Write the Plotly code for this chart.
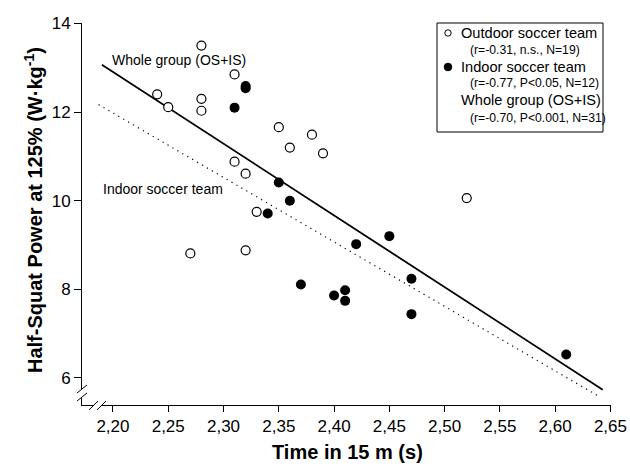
import plotly.graph_objects as go

# ---- data ----
outdoor_x = [2.24, 2.25, 2.27, 2.28, 2.28, 2.28, 2.31, 2.31, 2.32, 2.32, 2.33, 2.35, 2.36, 2.38, 2.39, 2.52]
outdoor_y = [12.40, 12.11, 8.81, 13.50, 12.30, 12.03, 12.85, 10.88, 10.61, 8.88, 9.75, 11.66, 11.20, 11.49, 11.07, 10.06]

indoor_x = [2.31, 2.32, 2.32, 2.34, 2.35, 2.36, 2.37, 2.40, 2.41, 2.41, 2.42, 2.45, 2.47, 2.47, 2.61]
indoor_y = [12.10, 12.59, 12.54, 9.71, 10.41, 10.00, 8.11, 7.86, 7.98, 7.74, 9.02, 9.20, 8.24, 7.44, 6.53]

# regression lines (slope, intercept, x extent)
whole_slope, whole_intercept = -16.18, 48.50
whole_xs = [2.19, 2.643]
indoor_slope, indoor_intercept = -14.55, 43.99
indoor_xs = [2.187, 2.640]

x_ticks = [2.20, 2.25, 2.30, 2.35, 2.40, 2.45, 2.50, 2.55, 2.60, 2.65]
y_ticks = [6, 8, 10, 12, 14]

legend_lines = [
    ("Outdoor soccer team", 14.6, "main"),
    ("(r=-0.31, n.s., N=19)", 12.2, "sub"),
    ("Indoor soccer team", 14.6, "main"),
    ("(r=-0.77, P<0.05, N=12)", 12.2, "sub"),
    ("Whole group (OS+IS)", 14.6, "main"),
    ("(r=-0.70, P<0.001, N=31)", 12.2, "sub"),
]

FONT = "Arial, Liberation Sans, sans-serif"
W, H = 630, 467
L, R, T, B = 82, 19, 23, 62
PW, PH = W - L - R, H - T - B


def px(xp):
    return (xp - L) / PW


def py(yp):
    return (H - B - yp) / PH


fig = go.Figure()

fig.add_trace(go.Scatter(
    x=whole_xs, y=[whole_intercept + whole_slope * v for v in whole_xs],
    mode="lines", line=dict(color="black", width=1.8), showlegend=False, hoverinfo="skip"))
fig.add_trace(go.Scatter(
    x=indoor_xs, y=[indoor_intercept + indoor_slope * v for v in indoor_xs],
    mode="lines", line=dict(color="black", width=1.2, dash="1.2px,4.5px"), showlegend=False, hoverinfo="skip"))

fig.add_trace(go.Scatter(
    x=outdoor_x, y=outdoor_y, mode="markers", name="Outdoor soccer team",
    marker=dict(symbol="circle", size=9, color="white", line=dict(color="black", width=1.2)),
    showlegend=False))
fig.add_trace(go.Scatter(
    x=indoor_x, y=indoor_y, mode="markers", name="Indoor soccer team",
    marker=dict(symbol="circle", size=10, color="black", line=dict(color="black", width=0)),
    showlegend=False))

annotations = []
shapes = []

# in-plot labels
annotations.append(dict(text="Whole group (OS+IS)", xref="paper", yref="paper",
                        x=px(110), y=py(60), xanchor="left", yanchor="middle",
                        showarrow=False, font=dict(family=FONT, size=14, color="black")))
annotations.append(dict(text="Indoor soccer team", xref="paper", yref="paper",
                        x=px(101), y=py(189), xanchor="left", yanchor="middle",
                        showarrow=False, font=dict(family=FONT, size=14, color="black")))

# legend box
shapes.append(dict(type="rect", xref="paper", yref="paper",
                   x0=px(437), x1=px(603), y0=py(132), y1=py(23),
                   line=dict(color="black", width=1), fillcolor="white", layer="above"))
legend_y = [33, 50, 67, 83, 100, 118]
for (txt, fs, kind), yy in zip(legend_lines, legend_y):
    annotations.append(dict(text=txt, xref="paper", yref="paper",
                            x=px(459 if kind == "main" else 468), y=py(yy),
                            xanchor="left", yanchor="middle", showarrow=False,
                            font=dict(family=FONT, size=fs, color="black")))
# legend symbols
for yy, fill, r in [(33, "white", 3.2), (67, "black", 3.8)]:
    shapes.append(dict(type="circle", xref="paper", yref="paper",
                       x0=px(448 - r), x1=px(448 + r), y0=py(yy + r), y1=py(yy - r),
                       line=dict(color="black", width=1), fillcolor=fill, layer="above"))

# axis titles
annotations.append(dict(text="<b>Time in 15 m (s)</b>", xref="paper", yref="paper",
                        x=px(347), y=py(452), xanchor="center", yanchor="middle",
                        showarrow=False, font=dict(family=FONT, size=20, color="black")))
annotations.append(dict(text="<b>Half-Squat Power at 125% (W·kg<sup>-1</sup>)</b>",
                        xref="paper", yref="paper", x=px(33), y=py(210),
                        xanchor="center", yanchor="middle", textangle=-90,
                        showarrow=False, font=dict(family=FONT, size=20, color="black")))

# axis break marks
def seg(x0, y0, x1, y1, color="black", width=1):
    return dict(type="line", xref="paper", yref="paper",
                x0=px(x0), y0=py(y0), x1=px(x1), y1=py(y1),
                line=dict(color=color, width=width), layer="above")

# white gaps in the axis lines
shapes.append(seg(82, 389, 82, 397, color="white", width=3))
shapes.append(seg(94, 405, 101, 405, color="white", width=3))
# slashes on y axis
shapes.append(seg(77, 393, 87, 385))
shapes.append(seg(77, 401, 87, 393))
# slashes on x axis
shapes.append(seg(89, 410, 98, 401))
shapes.append(seg(97, 410, 106, 401))

fig.update_layout(
    width=W, height=H,
    margin=dict(l=L, r=R, t=T, b=B, autoexpand=False),
    paper_bgcolor="white", plot_bgcolor="white",
    separators=",.",
    font=dict(family=FONT, size=17, color="black"),
    annotations=annotations, shapes=shapes,
    showlegend=False,
    hovermode=False,
)
fig.update_xaxes(range=[2.172, 2.6505], tickvals=x_ticks, tickformat=".2f",
                 showline=True, linecolor="black", linewidth=1,
                 ticks="outside", ticklen=6, tickcolor="black", tickwidth=1,
                 showgrid=False, zeroline=False,
                 tickfont=dict(family=FONT, size=17, color="black"))
fig.update_yaxes(range=[5.39, 14.01], tickvals=y_ticks,
                 showline=True, linecolor="black", linewidth=1,
                 ticks="outside", ticklen=7, tickcolor="black", tickwidth=1,
                 showgrid=False, zeroline=False,
                 tickfont=dict(family=FONT, size=17, color="black"))

fig.write_html("out.html",
               config={"displayModeBar": False, "staticPlot": True},
               post_script="document.body.style.margin='0';document.body.style.overflow='hidden';")
